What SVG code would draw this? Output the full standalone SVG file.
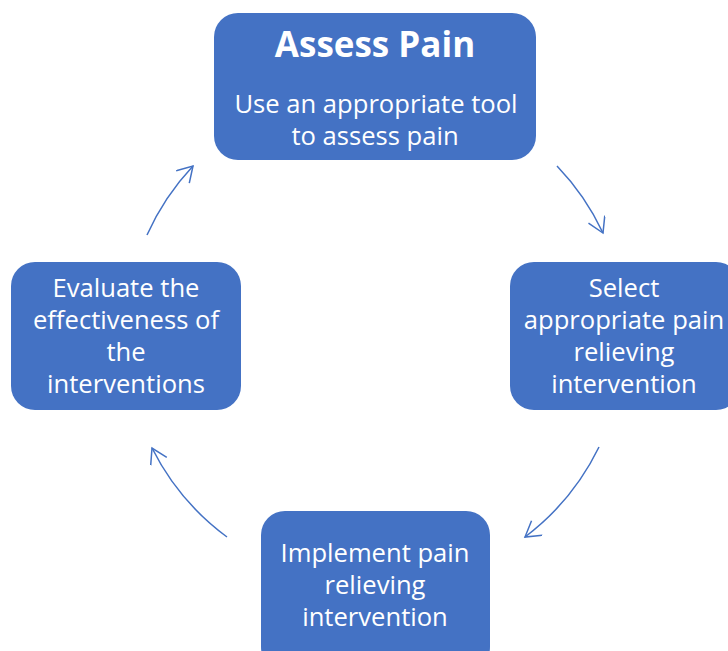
<svg xmlns="http://www.w3.org/2000/svg" width="728" height="651" viewBox="0 0 728 651">
  <defs>
    <style>
      .box { fill: #4472C4; }
      .t { font-family: "Open Sans", "Liberation Sans", sans-serif; font-size: 25.6px; fill: #ffffff; text-anchor: middle; }
      .title { font-family: "Open Sans", "Liberation Sans", sans-serif; font-size: 35px; font-weight: bold; fill: #ffffff; text-anchor: middle; }
      .conn { fill: none; stroke: #4472C4; stroke-width: 1.5; }
    </style>
    <marker id="arrow" markerUnits="userSpaceOnUse" markerWidth="20" markerHeight="20" refX="16" refY="9" orient="auto" viewBox="0 0 20 20">
      <path d="M1,0 L16,9 L1,18" fill="none" stroke="#4472C4" stroke-width="1.5"/>
    </marker>
  </defs>
  <rect width="728" height="651" fill="#ffffff"/>

  <g id="connectors">
    <path class="conn" d="M557,166 A250,250 0 0 1 603,233" marker-end="url(#arrow)"/>
    <path class="conn" d="M599,447 A250,250 0 0 1 525,537" marker-end="url(#arrow)"/>
    <path class="conn" d="M227,537 A250,250 0 0 1 152,448" marker-end="url(#arrow)"/>
    <path class="conn" d="M147,235 A250,250 0 0 1 193,166" marker-end="url(#arrow)"/>
  </g>

  <g id="assess">
    <rect class="box" x="214" y="13" width="322" height="147" rx="24"/>
    <text class="title" x="375" y="57">Assess Pain</text>
    <text class="t" x="376" y="113">Use an appropriate tool</text>
    <text class="t" x="375" y="145">to assess pain</text>
  </g>

  <g id="select">
    <rect class="box" x="510" y="262" width="230" height="148" rx="24"/>
    <text class="t" x="624" y="297">Select</text>
    <text class="t" x="624" y="329">appropriate pain</text>
    <text class="t" x="624" y="361">relieving</text>
    <text class="t" x="624" y="393">intervention</text>
  </g>

  <g id="implement">
    <rect class="box" x="261" y="511" width="229" height="160" rx="24"/>
    <text class="t" x="375" y="562">Implement pain</text>
    <text class="t" x="375" y="594">relieving</text>
    <text class="t" x="375" y="626">intervention</text>
  </g>

  <g id="evaluate">
    <rect class="box" x="11" y="262" width="230" height="148" rx="24"/>
    <text class="t" x="126" y="297">Evaluate the</text>
    <text class="t" x="126" y="329">effectiveness of</text>
    <text class="t" x="126" y="361">the</text>
    <text class="t" x="126" y="393">interventions</text>
  </g>
</svg>
